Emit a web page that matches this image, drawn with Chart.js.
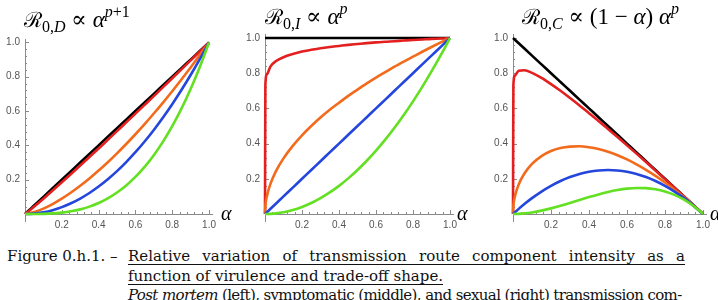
<!DOCTYPE html>
<html>
<head>
<meta charset="utf-8">
<script src="https://cdn.jsdelivr.net/npm/chart.js@4/dist/chart.umd.min.js"></script>
<style>
html,body{margin:0;padding:0;background:#fff;}
#wrap{position:relative;width:718px;height:300px;overflow:hidden;background:#fff;}
canvas{position:absolute;top:0;}
.ttl{position:absolute;font-family:'Liberation Serif','DejaVu Serif',serif;font-size:23px;white-space:nowrap;line-height:1;color:#000;}
.ttl .cal{font-family:'DejaVu Serif',serif;font-size:21px;}
.ttl sub{font-size:16px;vertical-align:-5px;line-height:0;}
.ttl sup{font-size:16px;vertical-align:10px;line-height:0;}
.alab{position:absolute;font-family:'Liberation Serif','DejaVu Serif',serif;font-style:italic;font-size:20px;line-height:1;}
.cap{position:absolute;font-family:'DejaVu Serif',serif;font-size:15px;line-height:1;white-space:nowrap;color:#111;}
.just{text-align:justify;text-align-last:justify;}
.u{text-decoration:underline;text-underline-offset:3px;text-decoration-thickness:1px;}
</style>
</head>
<body>
<div id="wrap">
<canvas id="cD" width="240" height="240" style="left:0px"></canvas>
<canvas id="cI" width="240" height="240" style="left:240px"></canvas>
<canvas id="cC" width="240" height="240" style="left:478px"></canvas>

<div class="ttl" style="left:24px;top:8px"><span class="cal">ℛ</span><sub>0,<i>D</i></sub> ∝ <i>α</i><sup><i>p</i>+1</sup></div>
<div class="ttl" style="left:265px;top:5px"><span class="cal">ℛ</span><sub>0,<i>I</i></sub> ∝ <i>α</i><sup><i>p</i></sup></div>
<div class="ttl" style="left:522px;top:5px"><span class="cal">ℛ</span><sub>0,<i>C</i></sub> ∝ (1 − <i>α</i>) <i>α</i><sup><i>p</i></sup></div>

<div class="alab" style="left:221px;top:203px">α</div>
<div class="alab" style="left:457px;top:203px">α</div>
<div class="alab" style="left:710px;top:203px">α</div>

<div class="cap" style="left:7px;top:249px;word-spacing:0px">Figure 0.h.1. –</div>
<div class="cap just u" style="left:128px;top:249px;width:557px">Relative variation of transmission route component intensity as a</div>
<div class="cap u" style="left:128px;top:269px">function of virulence and trade-off shape.</div>
<div class="cap" style="left:128px;top:288px;letter-spacing:-0.62px"><i>Post mortem</i> (left), symptomatic (middle), and sexual (right) transmission com-</div>
</div>

<script>
// ---- data ----
const ALPHA = [0, 0.002, 0.01, 0.03, 0.06, 0.1, 0.15, 0.2, 0.25, 0.3, 0.35, 0.4, 0.45, 0.5, 0.55, 0.6, 0.65, 0.7, 0.75, 0.8, 0.85, 0.9, 0.95, 1.0];
const X_TICKS = [0.2, 0.4, 0.6, 0.8, 1.0];
const Y_TICKS = [0.2, 0.4, 0.6, 0.8, 1.0];

// Left panel: post mortem, R0,D
const D_BLACK  = [0,0.002,0.01,0.03,0.06,0.1,0.15,0.2,0.25,0.3,0.35,0.4,0.45,0.5,0.55,0.6,0.65,0.7,0.75,0.8,0.85,0.9,0.95,1];
const D_RED    = [0,0.0015,0.0079,0.0252,0.0521,0.0891,0.1364,0.1846,0.2333,0.2826,0.3322,0.382,0.4325,0.483,0.534,0.585,0.636,0.687,0.7395,0.791,0.843,0.8955,0.947,1];
const D_ORANGE = [0,0.0001,0.001,0.0052,0.0147,0.0316,0.0581,0.0894,0.125,0.1643,0.2071,0.253,0.3019,0.3536,0.4079,0.4648,0.524,0.5857,0.6495,0.7155,0.7837,0.8538,0.926,1];
const D_BLUE   = [0,0,0.0001,0.0009,0.0036,0.01,0.0225,0.04,0.0625,0.09,0.1225,0.16,0.2025,0.25,0.3025,0.36,0.4225,0.49,0.5625,0.64,0.7225,0.81,0.9025,1];
const D_GREEN  = [0,0,0,0,0.0002,0.001,0.0034,0.008,0.0156,0.027,0.0429,0.064,0.0911,0.125,0.1664,0.216,0.2746,0.343,0.4219,0.512,0.6141,0.729,0.8574,1];

// Middle panel: symptomatic, R0,I
const I_BLACK  = [1,1,1,1,1,1,1,1,1,1,1,1,1,1,1,1,1,1,1,1,1,1,1,1];
const I_RED    = [0,0.733,0.794,0.839,0.869,0.891,0.909,0.923,0.933,0.942,0.949,0.955,0.961,0.966,0.971,0.975,0.979,0.982,0.986,0.989,0.992,0.995,0.997,1];
const I_ORANGE = [0,0.045,0.1,0.173,0.245,0.316,0.387,0.447,0.5,0.548,0.592,0.632,0.671,0.707,0.742,0.775,0.806,0.837,0.866,0.894,0.922,0.949,0.975,1];
const I_BLUE   = [0,0.002,0.01,0.03,0.06,0.1,0.15,0.2,0.25,0.3,0.35,0.4,0.45,0.5,0.55,0.6,0.65,0.7,0.75,0.8,0.85,0.9,0.95,1];
const I_GREEN  = [0,0,0.0001,0.0009,0.0036,0.01,0.0225,0.04,0.0625,0.09,0.1225,0.16,0.2025,0.25,0.3025,0.36,0.4225,0.49,0.5625,0.64,0.7225,0.81,0.9025,1];

// Right panel: sexual, R0,C
const C_BLACK  = [1,0.998,0.99,0.97,0.94,0.9,0.85,0.8,0.75,0.7,0.65,0.6,0.55,0.5,0.45,0.4,0.35,0.3,0.25,0.2,0.15,0.1,0.05,0];
const C_RED    = [0,0.7315,0.786,0.814,0.817,0.802,0.773,0.738,0.7,0.659,0.617,0.573,0.529,0.483,0.437,0.39,0.343,0.295,0.2465,0.198,0.149,0.0995,0.0499,0];
const C_ORANGE = [0,0.0446,0.099,0.168,0.23,0.2846,0.329,0.358,0.375,0.383,0.385,0.379,0.369,0.354,0.334,0.31,0.282,0.251,0.2165,0.179,0.138,0.0949,0.0487,0];
const C_BLUE   = [0,0.002,0.0099,0.0291,0.0564,0.09,0.1275,0.16,0.1875,0.21,0.2275,0.24,0.2475,0.25,0.2475,0.24,0.2275,0.21,0.1875,0.16,0.1275,0.09,0.0475,0];
const C_GREEN  = [0,0,0.0001,0.0009,0.0034,0.009,0.0191,0.032,0.0469,0.063,0.0796,0.096,0.1114,0.125,0.1361,0.144,0.1479,0.147,0.1406,0.128,0.1084,0.081,0.0451,0];

// ---- styling ----
const COLORS = ['#000000', '#e41f1f', '#f26b1d', '#2446dc', '#62e021'];
const AX = '#8a8a8a';

const tickPlugin = {
  id: 'mmaTicks',
  beforeDatasetsDraw(chart) {
    const {ctx, chartArea: a, scales: {x, y}} = chart;
    ctx.save();
    ctx.strokeStyle = AX;
    ctx.lineWidth = 1;
    ctx.beginPath();
    for (let k = 1; k <= 25; k++) {
      const v = k * 0.04;
      const len = (k % 5 === 0) ? 4 : 2;
      const px = Math.round(x.getPixelForValue(v)) + 0.5;
      ctx.moveTo(px, a.bottom);
      ctx.lineTo(px, a.bottom - len);
      const py = Math.round(y.getPixelForValue(v)) + 0.5;
      ctx.moveTo(a.left, py);
      ctx.lineTo(a.left + len, py);
    }
    const ox = Math.round(a.left) + 0.5;
    ctx.moveTo(ox, a.bottom);
    ctx.lineTo(ox, a.bottom + 8);
    ctx.stroke();
    ctx.restore();
  }
};

function makePanel(id, series, geo) {
  new Chart(document.getElementById(id), {
    type: 'scatter',
    data: {
      datasets: series.map((ys, i) => ({
        data: ALPHA.map((a, j) => ({x: a, y: ys[j]})),
        borderColor: COLORS[i],
        backgroundColor: COLORS[i],
        borderWidth: 2.6,
        showLine: true,
        pointRadius: 0,
        fill: false,
        cubicInterpolationMode: 'monotone',
        clip: false,
        order: series.length - i
      }))
    },
    options: {
      responsive: false,
      animation: false,
      devicePixelRatio: 1,
      events: [],
      layout: {padding: {top: geo.top, right: geo.right, left: 0, bottom: 0}},
      plugins: {legend: {display: false}, tooltip: {enabled: false}},
      scales: {
        x: {
          type: 'linear', min: 0, max: 1.02,
          grid: {display: false, drawTicks: false},
          border: {display: true, color: AX, width: 1},
          ticks: {font: {family: 'Liberation Sans', size: 10}, color: '#555', padding: 5, maxRotation: 0,
                  callback: v => v.toFixed(1)},
          afterBuildTicks: s => { s.ticks = X_TICKS.map(v => ({value: v})); },
          afterFit: s => { s.height = 26; }
        },
        y: {
          type: 'linear', min: 0, max: 1.02,
          grid: {display: false, drawTicks: false},
          border: {display: true, color: AX, width: 1},
          ticks: {font: {family: 'Liberation Sans', size: 10}, color: '#555', padding: 5,
                  callback: v => v.toFixed(1)},
          afterBuildTicks: s => { s.ticks = Y_TICKS.map(v => ({value: v})); },
          afterFit: s => { s.width = geo.left; }
        }
      }
    },
    plugins: [tickPlugin]
  });
}

makePanel('cD', [D_BLACK, D_RED, D_ORANGE, D_BLUE, D_GREEN], {left: 25, top: 39, right: 27.3});
makePanel('cI', [I_BLACK, I_RED, I_ORANGE, I_BLUE, I_GREEN], {left: 25, top: 34.5, right: 26.3});
makePanel('cC', [C_BLACK, C_RED, C_ORANGE, C_BLUE, C_GREEN], {left: 35, top: 34.5, right: 11.2});
</script>
</body>
</html>
